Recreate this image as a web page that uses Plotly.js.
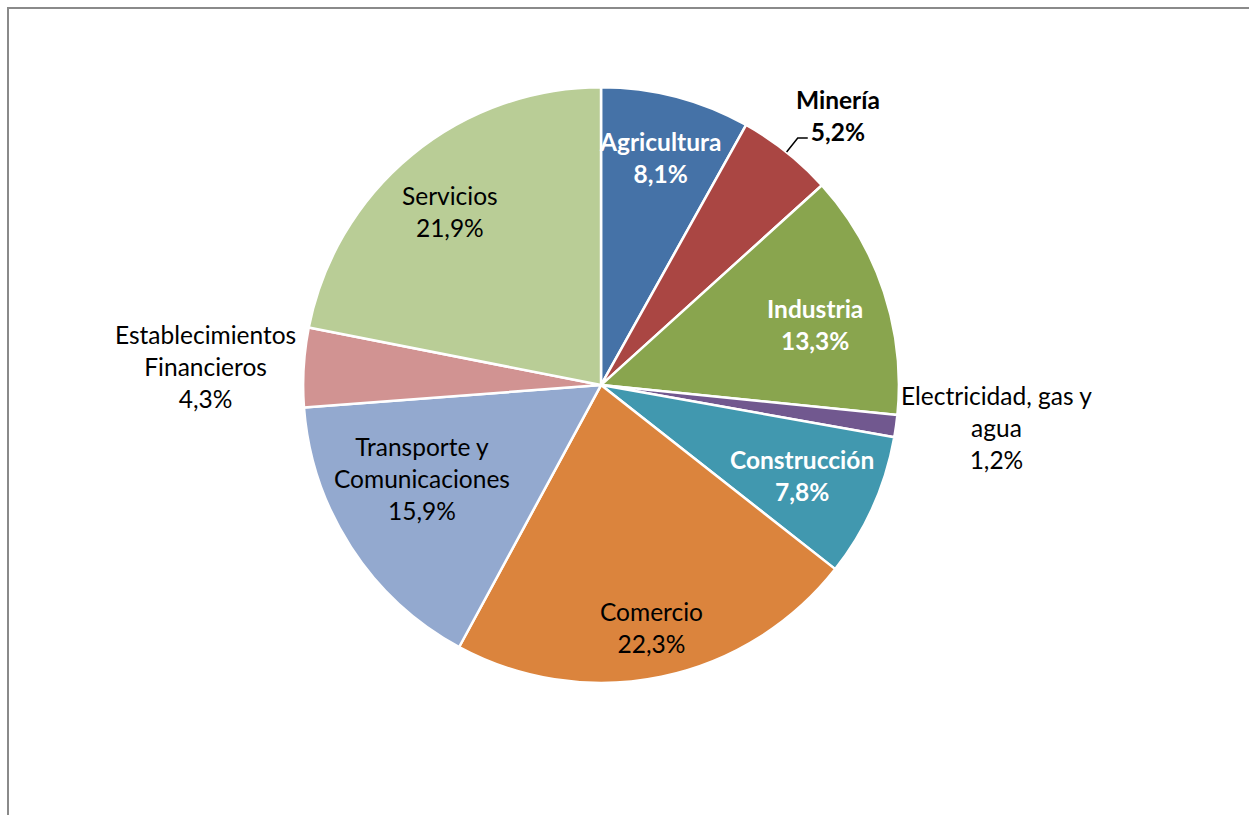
<!DOCTYPE html>
<html>
<head>
<meta charset="utf-8">
<script src="https://cdn.plot.ly/plotly-3.0.1.min.js"></script>
<style>
  body { margin: 0; background: #fff; overflow: hidden; }
  #frame {
    position: absolute; left: 7px; top: 7px;
    width: 1260px; height: 830px;
    border-top: 2px solid #8a8a8a; border-left: 2px solid #8a8a8a;
  }
  #chart { position: absolute; left: 0; top: 0; width: 1249px; height: 815px; }
</style>
</head>
<body>
<div id="frame"></div>
<div id="chart"></div>
<script>
// Sectores (en el sentido del reloj, empezando a las 12)
const sectores = ['Agricultura', 'Minería', 'Industria', 'Electricidad, gas y agua',
  'Construcción', 'Comercio', 'Transporte y Comunicaciones',
  'Establecimientos Financieros', 'Servicios'];
const etiquetas = ['Agricultura', 'Minería', 'Industria', 'Electricidad, gas y<br>agua',
  'Construcción', 'Comercio', 'Transporte y<br>Comunicaciones',
  'Establecimientos<br>Financieros', 'Servicios'];
const porcentajes = [8.1, 5.2, 13.3, 1.2, 7.8, 22.3, 15.9, 4.3, 21.9];

// estilo
const colores = ['#4572A7', '#AA4643', '#89A54E', '#71588F', '#4198AF',
  '#DB843D', '#93A9CF', '#D19392', '#B9CD96'];
const negrita = [true, true, true, false, true, false, false, false, false];
const colorTexto = ['white', 'black', 'white', 'black', 'white',
  'black', 'black', 'black', 'black'];
// distancia de la etiqueta al centro, en radios, y ajuste fino en px
const radioEtiqueta = [0.79, 1.2, 0.75, 1.34, 0.74, 0.83, 0.68, 1.33, 0.78];
const ajusteX = [0, 14, 2, 0, 0, 0, -9, 0, -3];
const ajusteY = [0, 10, 9, -13, 0, 0, -17, 5, 6];

const W = 1249, H = 815;
const dom = { x: [0.2426, 0.7198], y: [0.162, 0.893] };
const cx = (dom.x[0] + dom.x[1]) / 2 * W;
const cy = (1 - (dom.y[0] + dom.y[1]) / 2) * H;
const R = (dom.x[1] - dom.x[0]) * W / 2;

const total = porcentajes.reduce((a, b) => a + b, 0);
let acum = 0;
const angulos = porcentajes.map(function (v) {
  const a = (acum + v / 2) / total * 2 * Math.PI;
  acum += v;
  return a;
});

function punto(ang, f) {
  return [(cx + R * f * Math.sin(ang)) / W, 1 - (cy - R * f * Math.cos(ang)) / H];
}

const annotations = etiquetas.map(function (s, i) {
  let t = s + '<br>' + porcentajes[i].toFixed(1).replace('.', ',') + '%';
  if (negrita[i]) t = '<b>' + t + '</b>';
  const p = punto(angulos[i], radioEtiqueta[i]);
  return {
    xref: 'paper', yref: 'paper', x: p[0], y: p[1],
    xshift: ajusteX[i], yshift: -ajusteY[i],
    xanchor: 'center', yanchor: 'middle', showarrow: false,
    text: t, align: 'center',
    font: { family: 'Lato, sans-serif', size: 24.5, color: colorTexto[i] }
  };
});

// linea guia de Minería
const a1 = punto(angulos[1], 1.0);
const a2 = punto(angulos[1], 1.06);
const shapes = [{
  type: 'path', xref: 'paper', yref: 'paper',
  path: 'M ' + a1[0] + ',' + a1[1] + ' L ' + a2[0] + ',' + a2[1] +
    ' L ' + (a2[0] + 10 / W) + ',' + a2[1],
  line: { color: 'black', width: 1.5 }
}];

var trace = {
  type: 'pie',
  labels: sectores,
  values: porcentajes,
  textinfo: 'none',
  hoverinfo: 'none',
  sort: false,
  direction: 'clockwise',
  rotation: 0,
  marker: { colors: colores, line: { color: 'white', width: 2.5 } },
  domain: dom,
  automargin: false
};

var layout = {
  width: W,
  height: H,
  margin: { l: 0, r: 0, t: 0, b: 0 },
  paper_bgcolor: 'rgba(0,0,0,0)',
  plot_bgcolor: 'rgba(0,0,0,0)',
  showlegend: false,
  annotations: annotations,
  shapes: shapes
};

Plotly.newPlot('chart', [trace], layout, { displayModeBar: false, staticPlot: true });
</script>
</body>
</html>
